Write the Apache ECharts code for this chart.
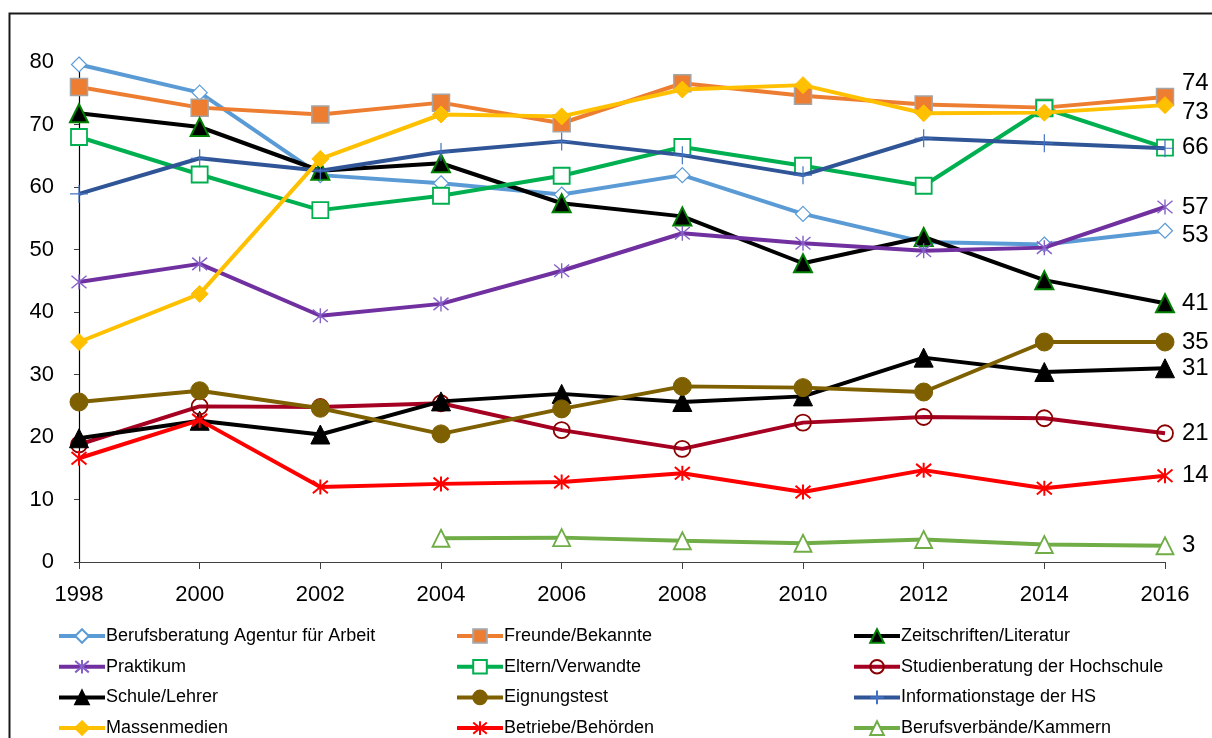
<!DOCTYPE html>
<html>
<head>
<meta charset="utf-8">
<script src="https://cdn.jsdelivr.net/npm/echarts@6/dist/echarts.min.js"></script>
<style>
html,body{margin:0;padding:0;background:#fff;}
#c{width:1212px;height:738px;}
</style>
</head>
<body>
<div id="c"></div>
<script>
var years = ['1998','2000','2002','2004','2006','2008','2010','2012','2014','2016'];
var yTicks = [0,10,20,30,40,50,60,70,80];

var berufsberatung = [79.6, 75.1, 61.9, 60.6, 58.8, 61.9, 55.7, 51.2, 50.8, 53.0];
var freunde = [76.0, 72.7, 71.6, 73.5, 70.2, 76.6, 74.6, 73.2, 72.7, 74.4];
var zeitschriften = [71.8, 69.6, 62.6, 63.8, 57.4, 55.3, 47.8, 52.0, 45.1, 41.4];
var praktikum = [44.8, 47.7, 39.4, 41.3, 46.6, 52.6, 51.0, 49.8, 50.3, 56.8];
var eltern = [68.0, 62.0, 56.3, 58.6, 61.8, 66.4, 63.4, 60.2, 72.6, 66.3];
var studienberatung = [18.8, 24.9, 24.8, 25.4, 21.1, 18.1, 22.3, 23.2, 23.0, 20.6];
var schule = [19.8, 22.6, 20.4, 25.7, 26.9, 25.6, 26.5, 32.7, 30.4, 31.0];
var eignung = [25.6, 27.4, 24.6, 20.5, 24.5, 28.1, 27.9, 27.2, 35.2, 35.2];
var info = [58.9, 64.6, 62.6, 65.6, 67.3, 65.1, 61.9, 67.8, 67.0, 66.2];
var massenmedien = [35.2, 42.9, 64.5, 71.6, 71.3, 75.6, 76.3, 71.8, 71.9, 73.1];
var betriebe = [16.6, 22.7, 12.0, 12.5, 12.8, 14.2, 11.2, 14.7, 11.8, 13.8];
var berufsverbaende = [null, null, null, 3.8, 3.9, 3.4, 3.0, 3.6, 2.8, 2.6];

var names = ['Berufsberatung Agentur für Arbeit','Freunde/Bekannte','Zeitschriften/Literatur',
  'Praktikum','Eltern/Verwandte','Studienberatung der Hochschule',
  'Schule/Lehrer','Eignungstest','Informationstage der HS',
  'Massenmedien','Betriebe/Behörden','Berufsverbände/Kammern'];
var values = [berufsberatung, freunde, zeitschriften, praktikum, eltern, studienberatung,
  schule, eignung, info, massenmedien, betriebe, berufsverbaende];

var FONT = '"Liberation Sans",Arial,sans-serif';
var asterisk = 'path://M0,0L10,10M10,0L0,10M5,-1L5,11';
var plus = 'path://M5,0L5,10M2,5L8,5';

var styles = [
  {line:'#5B9BD5', symbol:'diamond', size:15, fill:'#fff', border:'#5B9BD5', bw:1.2, label:true, dy:5},
  {line:'#ED7D31', symbol:'rect', size:17, fill:'#ED7D31', border:'#A5A5A5', bw:1.5, label:true, dy:-14},
  {line:'#000000', symbol:'triangle', size:18, fill:'#000000', border:'#008000', bw:2, label:true, dy:0},
  {line:'#7030A0', symbol:asterisk, size:15, fill:'rgba(0,0,0,0)', border:'#8560C8', bw:1.4, label:true, dy:0},
  {line:'#00B050', symbol:'rect', size:16, fill:'#fff', border:'#00B050', bw:1.8, label:true, dy:0},
  {line:'#A50021', symbol:'circle', size:16, fill:'rgba(255,255,255,0)', border:'#8B0000', bw:1.8, label:true, dy:0},
  {line:'#000000', symbol:'triangle', size:19, fill:'#000000', border:'#000000', bw:1, label:true, dy:0},
  {line:'#7F6000', symbol:'circle', size:18, fill:'#7F6000', border:'#7F6000', bw:1, label:true, dy:0},
  {line:'#2F5597', symbol:plus, size:18, fill:'rgba(0,0,0,0)', border:'#4472C4', bw:1.2, label:false, dy:0},
  {line:'#FFC000', symbol:'diamond', size:17, fill:'#FFC000', border:'#FFC000', bw:1, label:true, dy:7},
  {line:'#FF0000', symbol:asterisk, size:15, fill:'rgba(0,0,0,0)', border:'#FF0000', bw:2, label:true, dy:0},
  {line:'#70AD47', symbol:'triangle', size:17, fill:'#fff', border:'#70AD47', bw:1.8, label:true, dy:0}
];

var series = names.map(function(n, i){
  var s = styles[i];
  return {
    name: n,
    type: 'line',
    data: values[i],
    symbol: s.symbol,
    symbolSize: s.size,
    showAllSymbol: true,
    connectNulls: false,
    lineStyle: {color: s.line, width: 4},
    itemStyle: {color: s.fill, borderColor: s.border, borderWidth: s.bw},
    emphasis: {disabled: true},
    animation: false,
    z: 2 + i,
    endLabel: {
      show: s.label,
      formatter: function(p){ return String(Math.round(p.value)); },
      color: '#000',
      fontFamily: FONT,
      fontSize: 24,
      distance: 17,
      offset: [0, s.dy]
    }
  };
});

function legendCol(items, left){
  return {
    orient: 'vertical',
    left: left,
    top: 626,
    height: 150,
    padding: 0,
    data: items,
    itemWidth: 46,
    itemHeight: 17,
    itemGap: 10.7,
    lineStyle: {width: 4},
    textStyle: {fontFamily: FONT, fontSize: 18, color: '#000', padding: [0,0,0,-4], lineHeight: 20},
    selectedMode: false
  };
}

var chart = echarts.init(document.getElementById('c'), null, {renderer: 'canvas'});
chart.setOption({
  backgroundColor: '#fff',
  animation: false,
  graphic: [{
    type: 'rect',
    left: 7, top: 11,
    shape: {width: 1400, height: 900},
    style: {fill: 'none', stroke: '#1a1a1a', lineWidth: 2},
    silent: true, z: -1
  }],
  grid: {left: 79, right: 47, top: 62, bottom: 176, containLabel: false},
  legend: [
    legendCol([names[0], names[3], names[6], names[9]], 57),
    legendCol([names[1], names[4], names[7], names[10]], 455),
    legendCol([names[2], names[5], names[8], names[11]], 852)
  ],
  xAxis: {
    type: 'category',
    data: years,
    boundaryGap: false,
    axisLine: {lineStyle: {color: '#404040', width: 1.2}},
    axisTick: {show: true, length: 7, lineStyle: {color: '#404040'}, alignWithLabel: true},
    axisLabel: {color: '#000', fontFamily: FONT, fontSize: 22, margin: 22}
  },
  yAxis: {
    type: 'value',
    min: yTicks[0], max: yTicks[yTicks.length-1], interval: 10,
    axisLine: {show: true, lineStyle: {color: '#000', width: 1.2}},
    axisTick: {show: true, length: 5, lineStyle: {color: '#404040'}},
    splitLine: {show: false},
    axisLabel: {color: '#000', fontFamily: FONT, fontSize: 22, margin: 25}
  },
  series: series
});
</script>
</body>
</html>
